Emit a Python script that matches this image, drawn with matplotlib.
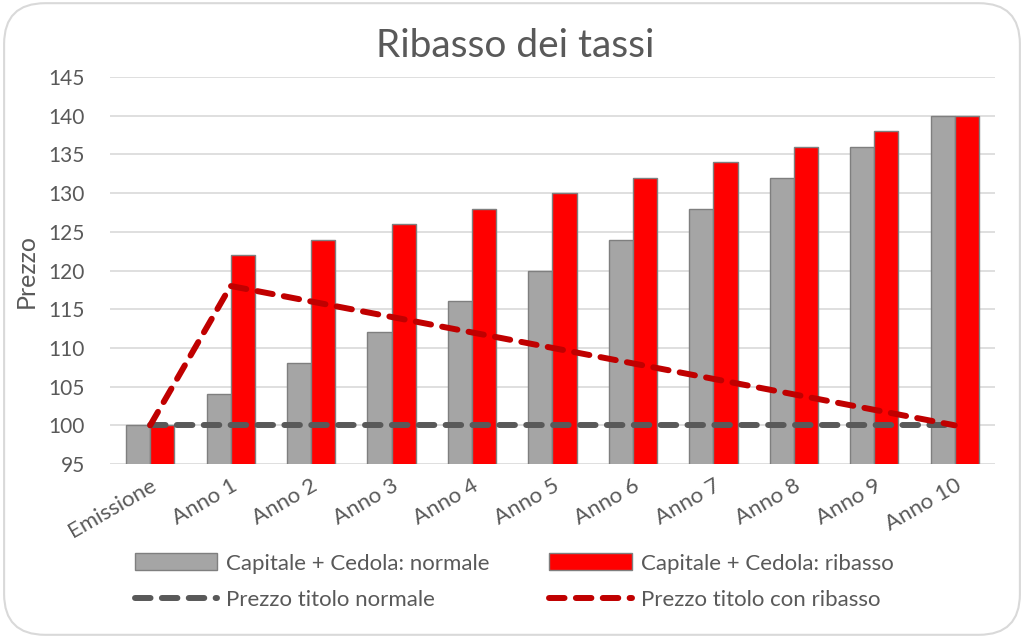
import matplotlib
matplotlib.use("Agg")
import matplotlib.pyplot as plt
from matplotlib.patches import FancyBboxPatch
import numpy as np

categories = ["Emissione", "Anno 1", "Anno 2", "Anno 3", "Anno 4", "Anno 5",
              "Anno 6", "Anno 7", "Anno 8", "Anno 9", "Anno 10"]
cap_normale = [100, 104, 108, 112, 116, 120, 124, 128, 132, 136, 140]
cap_ribasso = [100, 122, 124, 126, 128, 130, 132, 134, 136, 138, 140]
prezzo_normale = [100, 100, 100, 100, 100, 100, 100, 100, 100, 100, 100]
prezzo_ribasso = [100, 118, 116, 114, 112, 110, 108, 106, 104, 102, 100]
yticks = [95, 100, 105, 110, 115, 120, 125, 130, 135, 140, 145]

plt.rcParams['font.family'] = ['Lato', 'DejaVu Sans']
txt = '#595959'

fig = plt.figure(figsize=(10.24, 6.38), dpi=100)
border = FancyBboxPatch((0.004, 0.005), 0.992, 0.99, boxstyle="round,pad=0,rounding_size=0.04",
                        transform=fig.transFigure, facecolor='white', edgecolor='#D9D9D9',
                        linewidth=1.5, mutation_aspect=1.6, zorder=-10)
fig.patches.append(border)

ax = fig.add_axes([0.1074, 0.2727, 0.8643, 0.6066])
ax.set_facecolor('none')
x = np.arange(len(categories))
w = 0.3
b1 = ax.bar(x - w/2, cap_normale, width=w, color='#A5A5A5', edgecolor='#7F7F7F', linewidth=1,
            label='Capitale + Cedola: normale', zorder=2)
b2 = ax.bar(x + w/2, cap_ribasso, width=w, color='#FF0000', edgecolor='#7F7F7F', linewidth=1,
            label='Capitale + Cedola: ribasso', zorder=2)
dash = (0, (2.6, 1.9))
l1, = ax.plot(x, prezzo_normale, color='#595959', linewidth=4.3, linestyle=dash,
              dash_capstyle='round', label='Prezzo titolo normale', zorder=3)
l2, = ax.plot(x, prezzo_ribasso, color='#C00000', linewidth=4.3, linestyle=dash,
              dash_capstyle='round', label='Prezzo titolo con ribasso', zorder=3)

ax.set_xlim(-0.5, len(categories) - 0.5)
ax.set_ylim(95, 145)
ax.set_yticks(yticks)
ax.set_yticklabels([str(v) for v in yticks])
ax.set_xticks(x)
ax.set_xticklabels(categories, rotation=30, ha='right', rotation_mode='anchor')
ax.tick_params(axis='both', length=0, colors=txt, labelsize=15)
ax.tick_params(axis='x', labelsize=16, pad=8)
ax.tick_params(axis='y', pad=18)
ax.grid(axis='y', color='#D9D9D9', linewidth=1.2, zorder=0)
ax.set_axisbelow(True)
for s in ax.spines.values():
    s.set_visible(False)

ax.set_ylabel('Prezzo', fontsize=18, color=txt, labelpad=8)
fig.text(0.503, 0.928, 'Ribasso dei tassi', ha='center', va='center', fontsize=28, color=txt)

handles = [b1, l1, b2, l2]
labels = [h.get_label() for h in handles]
leg = fig.legend(handles, labels, ncol=2,
                 loc='center', bbox_to_anchor=(0.502, 0.088), frameon=False,
                 fontsize=16, handlelength=3.7, handleheight=0.8, columnspacing=2.7,
                 labelspacing=0.75, handletextpad=0.4)
for t in leg.get_texts():
    t.set_color(txt)

fig.savefig('out.png', dpi=100)
